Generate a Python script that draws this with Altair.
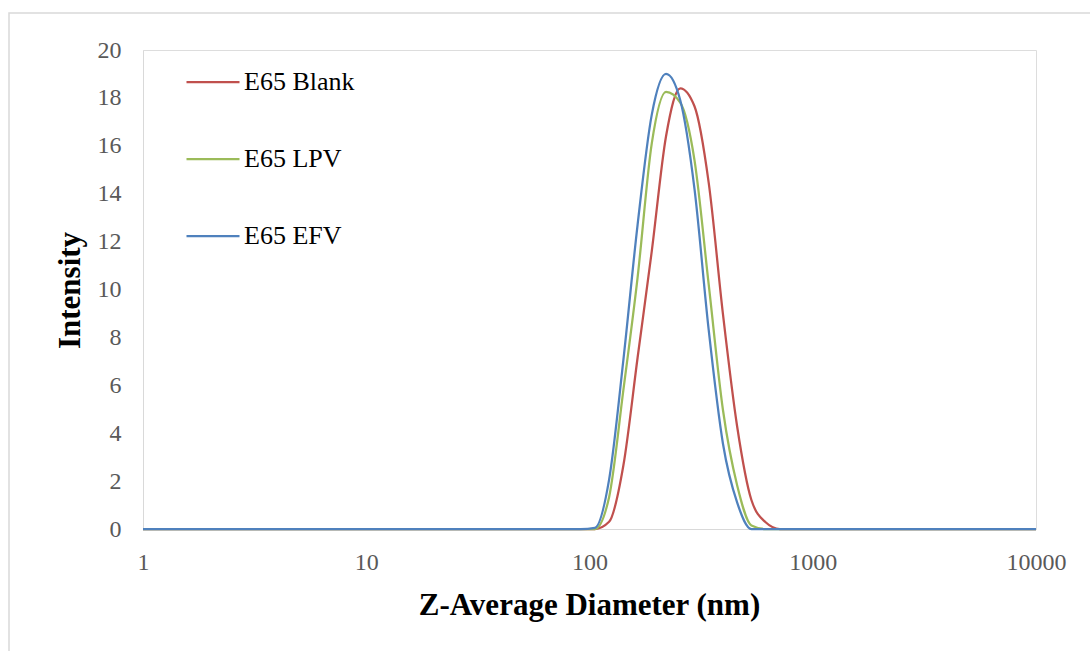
import altair as alt
import pandas as pd

# Diameter bins (nm) and intensity (%)
diameter_nm = [1, 91.28, 105.7, 122.4, 141.8, 164.2, 190.1, 220.2, 255.0, 295.3,
               342.0, 396.1, 458.7, 531.2, 615.1, 712.4, 825.0, 10000]
blank = [0, 0, 0, 0.3, 2.65, 7.15, 11.6, 16.4, 18.4, 17.65,
         14.45, 8.97, 4.27, 1.21, 0.28, 0, 0, 0]
lpv = [0, 0, 0, 1.33, 5.8, 10.5, 16.1, 18.25, 17.8, 15.4,
       10.2, 4.97, 1.82, 0.15, 0, 0, 0, 0]
efv = [0, 0, 0.05, 2.06, 7.05, 12.7, 17.3, 19.0, 17.9, 14.2,
       8.3, 3.56, 1.1, 0, 0, 0, 0, 0]

series_names = ["E65 Blank", "E65 LPV", "E65 EFV"]
series_colors = ["#C0504D", "#9BBB59", "#4F81BD"]
x_ticks = [1, 10, 100, 1000, 10000]
y_ticks = [0, 2, 4, 6, 8, 10, 12, 14, 16, 18, 20]

rows = []
for k, (name, vals) in enumerate(zip(series_names, [blank, lpv, efv])):
    for d, v in zip(diameter_nm, vals):
        rows.append({"Diameter": d, "Intensity": v, "Series": name, "k": k})
df = pd.DataFrame(rows)

tick_font = "Liberation Serif"
title_font = "Liberation Serif"

lines = alt.Chart(df).mark_line(strokeWidth=2.25, interpolate="monotone").encode(
    x=alt.X("Diameter:Q",
            scale=alt.Scale(type="log", domain=[1, 10000], nice=False),
            axis=alt.Axis(values=x_ticks, format="d", title="Z-Average Diameter (nm)",
                          ticks=False, grid=False, domainColor="#d9d9d9", domainWidth=1,
                          labelFont=tick_font, labelFontSize=24, labelColor="#595959",
                          labelPadding=21, labelFlush=False,
                          titleFont=title_font, titleFontSize=31, titleFontWeight="bold",
                          titleColor="#000000", titleX=446, titleY=76, titleBaseline="middle",
                          titleAlign="center")),
    y=alt.Y("Intensity:Q",
            scale=alt.Scale(domain=[0, 20], nice=False),
            axis=alt.Axis(values=y_ticks, title="Intensity",
                          ticks=False, grid=False, domainColor="#d9d9d9", domainWidth=1,
                          labelFont=tick_font, labelFontSize=24, labelColor="#595959",
                          labelPadding=22, labelFlush=False,
                          titleFont=title_font, titleFontSize=31, titleFontWeight="bold",
                          titleColor="#000000", titleX=-73, titleY=240, titleBaseline="middle",
                          titleAlign="center")),
    color=alt.Color("Series:N",
                    scale=alt.Scale(domain=series_names, range=series_colors),
                    legend=alt.Legend(title=None, orient="none", legendX=42, legendY=4,
                                      symbolType="stroke", symbolSize=2809,
                                      symbolStrokeWidth=2.25, labelFont=tick_font,
                                      labelFontSize=26, labelColor="#000000",
                                      labelOffset=3, rowPadding=36, padding=0)),
    order=alt.Order("k:Q"),
)

border = alt.Chart(pd.DataFrame({"v": [0]})).mark_rect(
    fillOpacity=0, stroke="#d9d9d9", strokeWidth=1.5
).encode(
    x=alt.value(-134), x2=alt.value(980), y=alt.value(-37), y2=alt.value(640)
)

chart = alt.layer(border, lines).properties(
    width=893, height=479,
    autosize=alt.AutoSizeParams(type="none"),
    padding={"left": 143, "top": 50, "right": 54, "bottom": 122},
).configure_view(stroke=None).configure(background="#ffffff")

chart.save("out.html", embed_options={"renderer": "svg", "actions": False})
